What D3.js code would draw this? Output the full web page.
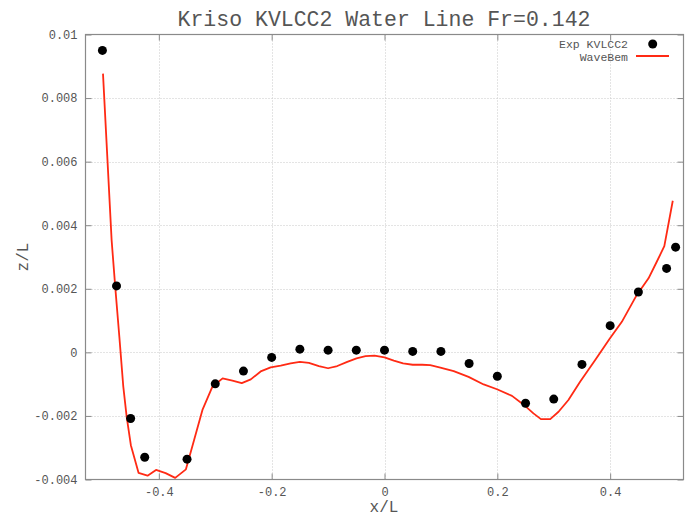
<!DOCTYPE html>
<html><head><meta charset="utf-8">
<script src="https://cdn.jsdelivr.net/npm/d3@7"></script>
<style>body{margin:0;background:#fff}svg{display:block}</style>
</head><body>
<svg id="c" width="692" height="517"></svg>
<script>
const title = "Kriso KVLCC2 Water Line Fr=0.142";
const xLabel = "x/L", yLabel = "z/L";
const xTicks = [-0.4, -0.2, 0, 0.2, 0.4];
const yTicks = [-0.004, -0.002, 0, 0.002, 0.004, 0.006, 0.008, 0.01];
const yTickLabels = ["-0.004", "-0.002", "0", "0.002", "0.004", "0.006", "0.008", "0.01"];
const xTickLabels = ["-0.4", "-0.2", "0", "0.2", "0.4"];
const expName = "Exp KVLCC2", bemName = "WaveBem";
const expX = [-0.5, -0.475, -0.45, -0.425, -0.35, -0.3, -0.25, -0.2, -0.15, -0.1, -0.05, 0, 0.05, 0.1, 0.15, 0.2, 0.25, 0.3, 0.35, 0.4, 0.45, 0.5, 0.516];
const expZ = [0.0095, 0.00209, -0.00208, -0.0033, -0.00336, -0.00099, -0.00059, -0.00016, 0.0001, 0.00007, 0.00007, 0.00007, 0.00003, 0.00003, -0.00035, -0.00075, -0.0016, -0.00147, -0.00038, 0.00084, 0.0019, 0.00264, 0.00331];
const bemX = [-0.499, -0.4837, -0.4773, -0.470, -0.463, -0.457, -0.4496, -0.436, -0.420, -0.405, -0.388, -0.371, -0.352, -0.3375, -0.3227, -0.305, -0.287, -0.2696, -0.253, -0.237, -0.2195, -0.2018, -0.184, -0.1664, -0.15, -0.134, -0.1163, -0.1, -0.0837, -0.066, -0.0496, -0.0336, -0.0177, 0, 0.0165, 0.033, 0.05, 0.0667, 0.081, 0.099, 0.1227, 0.149, 0.1758, 0.1994, 0.226, 0.2496, 0.264, 0.2773, 0.2938, 0.3085, 0.326, 0.347, 0.3735, 0.3988, 0.4207, 0.447, 0.468, 0.4826, 0.496, 0.511];
const bemZ = [0.00877, 0.00353, 0.00206, 0.00049, -0.00108, -0.00203, -0.00292, -0.00379, -0.00388, -0.0037, -0.0038, -0.00395, -0.00368, -0.00276, -0.00181, -0.00108, -0.00082, -0.00089, -0.00097, -0.00085, -0.0006, -0.00047, -0.00042, -0.00035, -0.0003, -0.00033, -0.00043, -0.0005, -0.00043, -0.0003, -0.00019, -0.00012, -0.0001, -0.00016, -0.00026, -0.00035, -0.00039, -0.00039, -0.0004, -0.00048, -0.00059, -0.00077, -0.00101, -0.00116, -0.00137, -0.00169, -0.00192, -0.0021, -0.0021, -0.00187, -0.0015, -0.00092, -0.00024, 0.00042, 0.00096, 0.0018, 0.00233, 0.00285, 0.00334, 0.00477];

const svg = d3.select("#c");
const L = 85.5, R = 683.5, T = 34.5, B = 479.5;
const x = d3.scaleLinear().domain([-0.53, 0.53]).range([L, R]);
const y = d3.scaleLinear().domain([-0.004, 0.01]).range([B, T]);
const font = "'Courier New', 'Liberation Mono', monospace";
const textCol = "#555";
const axisCol = "#8a8a8a";

// grid
const g = svg.append("g");
g.selectAll(".gx").data(xTicks).enter().append("line")
  .attr("x1", d => Math.round(x(d)) + 0.5).attr("x2", d => Math.round(x(d)) + 0.5)
  .attr("y1", T).attr("y2", B).attr("stroke", "#c8c8c8").attr("stroke-width", 1).attr("stroke-dasharray", "1,2");
g.selectAll(".gy").data(yTicks.slice(1, -1)).enter().append("line")
  .attr("y1", d => Math.round(y(d)) + 0.5).attr("y2", d => Math.round(y(d)) + 0.5)
  .attr("x1", L).attr("x2", R).attr("stroke", "#c8c8c8").attr("stroke-width", 1).attr("stroke-dasharray", "1,2");

// axes using d3 axis (ticks inward)
const axB = d3.axisBottom(x).tickValues(xTicks).tickSize(-6).tickPadding(8).tickFormat((d, i) => xTickLabels[i]);
const axT = d3.axisTop(x).tickValues(xTicks).tickSize(-6).tickFormat("");
const axLft = d3.axisLeft(y).tickValues(yTicks).tickSize(-6).tickPadding(8).tickFormat((d, i) => yTickLabels[i]);
const axRt = d3.axisRight(y).tickValues(yTicks).tickSize(-6).tickFormat("");
function style(sel) {
  sel.select(".domain").remove();
  sel.selectAll("line").attr("stroke", axisCol);
  sel.selectAll("text").attr("fill", textCol).style("font-family", font).style("font-size", "12px");
}
svg.append("g").attr("transform", `translate(0,${B})`).call(axB).call(style);
svg.append("g").attr("transform", `translate(0,${T})`).call(axT).call(style);
svg.append("g").attr("transform", `translate(${L},0)`).call(axLft).call(style);
svg.append("g").attr("transform", `translate(${R},0)`).call(axRt).call(style);

svg.append("rect").attr("x", L).attr("y", T).attr("width", R - L).attr("height", B - T)
  .attr("fill", "none").attr("stroke", axisCol).attr("stroke-width", 1.2);

// line
const line = d3.line().x((d, i) => x(bemX[i])).y((d, i) => y(bemZ[i]));
svg.append("path").datum(bemZ).attr("d", line).attr("fill", "none")
  .attr("stroke", "#ff2a14").attr("stroke-width", 1.8).attr("stroke-linejoin", "round");

// points
svg.selectAll(".pt").data(expZ).enter().append("circle")
  .attr("cx", (d, i) => x(expX[i])).attr("cy", d => y(d)).attr("r", 4.5).attr("fill", "#000");

// legend
svg.append("text").attr("x", 628).attr("y", 43.5).attr("dy", "0.35em").attr("text-anchor", "end")
  .attr("fill", textCol).style("font-family", font).style("font-size", "11.5px").text(expName);
svg.append("circle").attr("cx", 652.7).attr("cy", 44).attr("r", 4.5).attr("fill", "#000");
svg.append("text").attr("x", 628).attr("y", 56.5).attr("dy", "0.35em").attr("text-anchor", "end")
  .attr("fill", textCol).style("font-family", font).style("font-size", "11.5px").text(bemName);
svg.append("line").attr("x1", 636).attr("x2", 669).attr("y1", 56).attr("y2", 56)
  .attr("stroke", "#ff2a14").attr("stroke-width", 1.8);

// title and labels
svg.append("text").attr("x", 384).attr("y", 18).attr("dy", "0.35em").attr("text-anchor", "middle")
  .attr("fill", textCol).style("font-family", font).style("font-size", "21.5px").text(title);
svg.append("text").attr("x", 384).attr("y", 506).attr("dy", "0.35em").attr("text-anchor", "middle")
  .attr("fill", textCol).style("font-family", font).style("font-size", "16px").text(xLabel);
svg.append("text").attr("transform", "translate(22,257) rotate(-90)").attr("dy", "0.35em").attr("text-anchor", "middle")
  .attr("fill", textCol).style("font-family", font).style("font-size", "16px").text(yLabel);
</script>
</body></html>
